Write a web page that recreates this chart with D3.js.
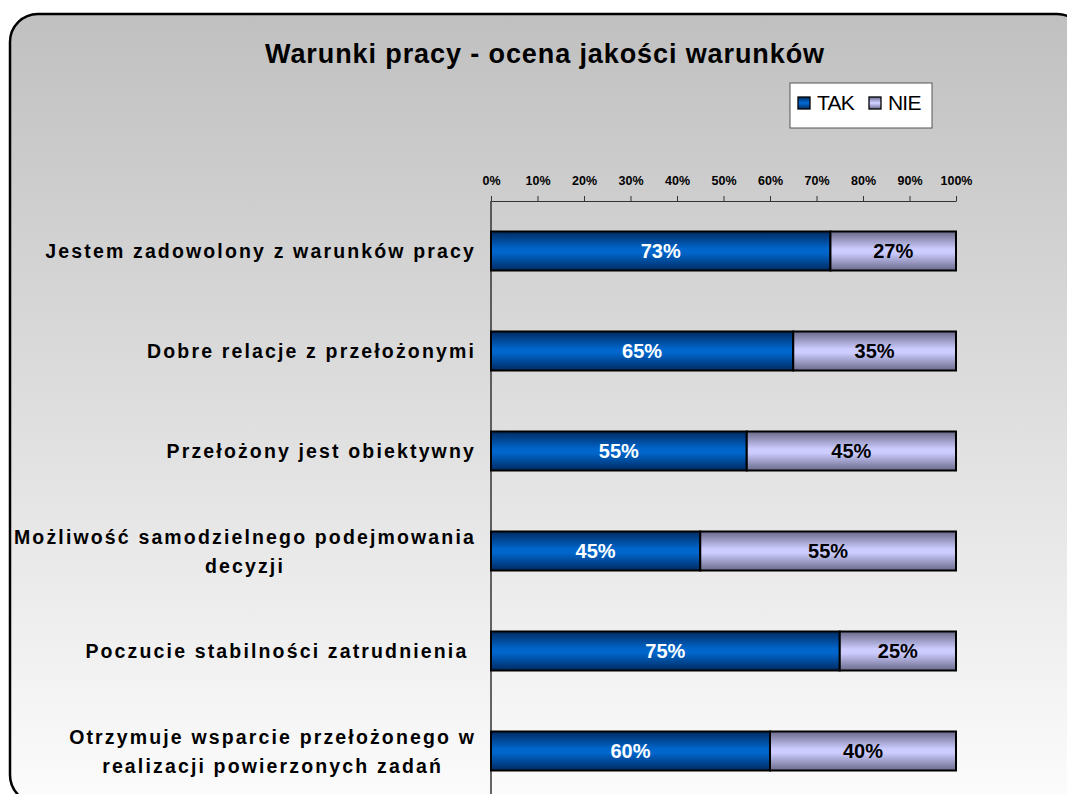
<!DOCTYPE html>
<html><head><meta charset="utf-8">
<script src="https://cdn.jsdelivr.net/npm/d3@7"></script>
<style>body{margin:0;background:#fff;} svg{display:block;}</style>
</head><body>
<svg id="chart" width="1067" height="794"></svg>
<script>
const categories = [
  ["Jestem zadowolony z warunków pracy"],
  ["Dobre relacje z przełożonymi"],
  ["Przełożony jest obiektywny"],
  ["Możliwość samodzielnego podejmowania", "decyzji"],
  ["Poczucie stabilności zatrudnienia "],
  ["Otrzymuje wsparcie przełożonego w", "realizacji powierzonych zadań"]
];
const takValues = [73, 65, 55, 45, 75, 60];
const nieValues = [27, 35, 45, 55, 25, 40];
const seriesNames = ["TAK", "NIE"];
const tickValues = [0,10,20,30,40,50,60,70,80,90,100];
const titleText = "Warunki pracy - ocena jakości warunków";

const svg = d3.select("#chart");
const defs = svg.append("defs");

const bg = defs.append("linearGradient").attr("id","bg").attr("x1",0).attr("y1",0).attr("x2",0).attr("y2",1);
bg.append("stop").attr("offset","0%").attr("stop-color","#c0c0c0");
bg.append("stop").attr("offset","100%").attr("stop-color","#fcfcfc");

function barGrad(id, dark, light) {
  const g = defs.append("linearGradient").attr("id",id).attr("x1",0).attr("y1",0).attr("x2",0).attr("y2",1);
  g.append("stop").attr("offset","0%").attr("stop-color",dark);
  g.append("stop").attr("offset","45%").attr("stop-color",light);
  g.append("stop").attr("offset","55%").attr("stop-color",light);
  g.append("stop").attr("offset","100%").attr("stop-color",dark);
}
barGrad("gTak", "#002a60", "#0066cc");
barGrad("gNie", "#6a6a8a", "#ccccff");

// frame
svg.append("rect").attr("x",10).attr("y",14).attr("width",1075).attr("height",789)
  .attr("rx",28).attr("ry",28).attr("fill","url(#bg)").attr("stroke","#000").attr("stroke-width",2.5);

const font = "'Liberation Sans', Arial, sans-serif";

svg.append("text").attr("x",545).attr("y",63).attr("text-anchor","middle")
  .attr("font-family",font).attr("font-weight","bold").attr("font-size",27)
  .attr("letter-spacing",0.9).text(titleText);

const x = d3.scaleLinear().domain([0,100]).range([491,956]);
const y = d3.scaleBand().domain(d3.range(categories.length)).range([201,801]).paddingInner(0.61).paddingOuter(0.305);

// axis
const axis = d3.axisTop(x).tickValues(tickValues).tickFormat(d => d + "%").tickSize(5).tickSizeOuter(0);
const ag = svg.append("g").attr("transform","translate(0,201)").call(axis);
ag.select(".domain").attr("stroke","#333");
ag.selectAll(".tick line").attr("stroke","#333");
ag.selectAll(".tick text").attr("font-family",font).attr("font-weight","bold").attr("font-size",12.5)
  .attr("fill","#000").attr("y",-16);
svg.append("line").attr("x1",x(0)).attr("x2",x(0)).attr("y1",201).attr("y2",794).attr("stroke","#333").attr("stroke-width",1.5);

// bars
const rows = svg.append("g").selectAll("g").data(categories.map((c,i)=>({c,i,tak:takValues[i],nie:nieValues[i]}))).join("g");
rows.append("rect").attr("x",x(0)).attr("y",d=>y(d.i)).attr("width",d=>x(d.tak)-x(0)).attr("height",y.bandwidth())
  .attr("fill","url(#gTak)").attr("stroke","#000").attr("stroke-width",2);
rows.append("rect").attr("x",d=>x(d.tak)).attr("y",d=>y(d.i)).attr("width",d=>x(d.tak+d.nie)-x(d.tak)).attr("height",y.bandwidth())
  .attr("fill","url(#gNie)").attr("stroke","#000").attr("stroke-width",2);
rows.append("text").attr("x",d=>(x(0)+x(d.tak))/2).attr("y",d=>y(d.i)+y.bandwidth()/2+7)
  .attr("text-anchor","middle").attr("font-family",font).attr("font-weight","bold").attr("font-size",20)
  .attr("fill","#fff").text(d=>d.tak+"%");
rows.append("text").attr("x",d=>(x(d.tak)+x(d.tak+d.nie))/2).attr("y",d=>y(d.i)+y.bandwidth()/2+7)
  .attr("text-anchor","middle").attr("font-family",font).attr("font-weight","bold").attr("font-size",20)
  .attr("fill","#000").text(d=>d.nie+"%");

// category labels
const labelRight = 476;
rows.each(function(d){
  const g = d3.select(this);
  const lines = d.c;
  const cy = y(d.i) + y.bandwidth()/2;
  const lh = 29;
  const t = g.append("text").attr("font-family",font).attr("font-weight","bold").attr("font-size",19.5)
    .attr("letter-spacing",2.15).attr("fill","#000").attr("xml:space","preserve");
  const spans = lines.map((l,k)=> t.append("tspan").attr("y", cy + 7 + (k - (lines.length-1)/2)*lh).text(l));
  if (lines.length === 1) {
    t.attr("text-anchor","end");
    spans[0].attr("x", labelRight);
  } else {
    let maxW = 0;
    spans.forEach(s => { maxW = Math.max(maxW, s.node().getComputedTextLength()); });
    t.attr("text-anchor","middle");
    spans.forEach(s => s.attr("x", labelRight - maxW/2));
  }
});

// legend
const lg = svg.append("g").attr("transform","translate(790,83)");
lg.append("rect").attr("width",142).attr("height",45).attr("fill","#fff").attr("stroke","#555").attr("stroke-width",1);
const fills = ["url(#gTak)","url(#gNie)"];
const lx = [8, 79];
seriesNames.forEach((n,i)=>{
  lg.append("rect").attr("x",lx[i]).attr("y",14).attr("width",12).attr("height",12).attr("fill",fills[i]).attr("stroke","#000").attr("stroke-width",1.3);
  lg.append("text").attr("x",lx[i]+19).attr("y",27).attr("font-family",font).attr("font-size",21).attr("letter-spacing",-0.8).attr("fill","#000").text(n);
});
</script>
</body></html>
